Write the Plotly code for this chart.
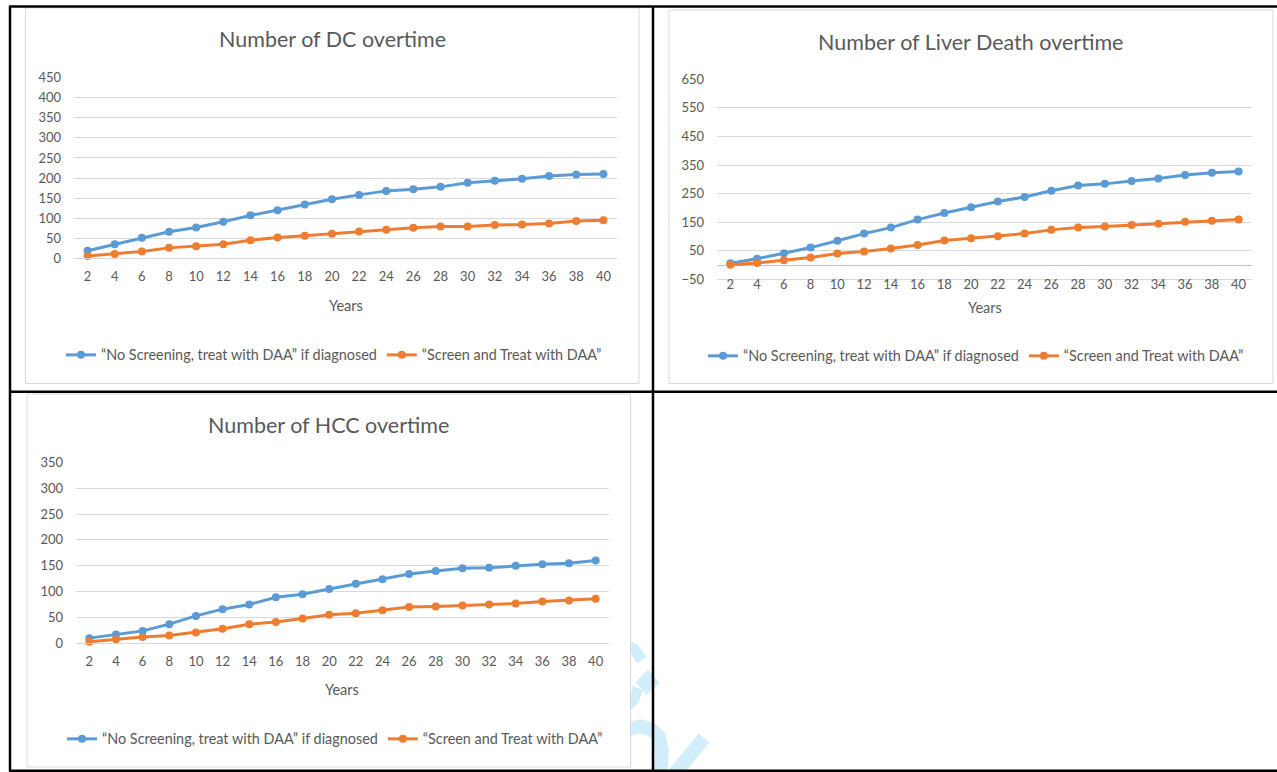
import plotly.graph_objects as go

W, H = 1277, 772

years = [str(y) for y in range(2, 41, 2)]

dc_no_screen = [19, 35, 51, 66, 77, 91, 107, 120, 134, 147, 158, 168, 172, 178, 188, 193, 198, 205, 209, 210]
dc_screen = [6, 11, 17, 26, 30, 35, 45, 52, 56, 61, 67, 71, 76, 79, 79, 83, 84, 87, 93, 95]

ld_no_screen = [6, 22, 41, 61, 85, 110, 131, 159, 182, 202, 222, 238, 260, 278, 284, 294, 303, 315, 323, 327]
ld_screen = [1, 7, 17, 26, 40, 47, 58, 70, 86, 94, 101, 110, 123, 131, 135, 140, 144, 151, 155, 159]

hcc_no_screen = [10, 17, 24, 37, 53, 66, 75, 89, 95, 105, 115, 124, 134, 140, 145, 146, 150, 153, 155, 160]
hcc_screen = [3, 8, 12, 15, 21, 28, 37, 41, 48, 55, 58, 64, 70, 71, 73, 75, 77, 81, 83, 86]

name_no = "\u201cNo Screening, treat with DAA\u201d if diagnosed"
name_sc = "\u201cScreen and Treat with DAA\u201d"

titles = ["Number of DC overtime", "Number of Liver Death overtime", "Number of HCC overtime"]

BLUE = "#5B9BD5"
ORANGE = "#ED7D31"
TXT = "#595959"
GRID = "#D9D9D9"
WM = "#D3EEFB"
FONT = "Lato, 'Open Sans', sans-serif"


def px(x):
    return x / W


def py(y):
    return 1 - y / H


fig = go.Figure()

panels = [
    dict(ax="", leg="legend", no=dc_no_screen, sc=dc_screen, x0=74, x1=617, yt=77.7, yb=258.3,
         rng=[0, 450], dt=50, tpos=(332, 39.5), ypos=(346, 305), lpos=(61, 355), std=6),
    dict(ax="2", leg="legend2", no=ld_no_screen, sc=ld_screen, x0=717, x1=1252, yt=79.3, yb=279.3,
         rng=[-50, 650], dt=100, tpos=(970, 42), ypos=(985, 307), lpos=(703, 356), std=-7),
    dict(ax="3", leg="legend3", no=hcc_no_screen, sc=hcc_screen, x0=76, x1=609, yt=462.3, yb=643.3,
         rng=[0, 350], dt=50, tpos=(328, 425), ypos=(342, 689), lpos=(62, 739), std=6),
]

for i, p in enumerate(panels):
    xa = "x" + p["ax"]
    ya = "y" + p["ax"]
    for name, vals, col in [(name_no, p["no"], BLUE), (name_sc, p["sc"], ORANGE)]:
        fig.add_trace(go.Scatter(
            x=years, y=vals, name=name, mode="lines+markers",
            line=dict(color=col, width=3), marker=dict(color=col, size=8),
            xaxis=xa, yaxis=ya, legend=p["leg"], cliponaxis=False,
        ))
    xkey = "xaxis" + p["ax"]
    ykey = "yaxis" + p["ax"]
    fig.layout[xkey] = dict(
        domain=[px(p["x0"]), px(p["x1"])], anchor=ya, type="category",
        range=[-0.5, 19.5], showgrid=False, showline=True, linecolor=GRID, linewidth=1,
        ticks="", tickfont=dict(size=13, color=TXT, family=FONT),
        ticklabelstandoff=p["std"], zeroline=False, fixedrange=True,
    )
    fig.layout[ykey] = dict(
        domain=[py(p["yb"]), py(p["yt"])], anchor=xa, range=p["rng"],
        tick0=p["rng"][0], dtick=p["dt"], showgrid=True, gridcolor=GRID, gridwidth=1,
        zeroline=(p["ax"] == "2"), zerolinecolor="#BFBFBF", zerolinewidth=1,
        showline=False, ticks="", tickfont=dict(size=13, color=TXT, family=FONT),
        ticklabelstandoff=12, fixedrange=True,
    )
    fig.layout[p["leg"]] = dict(
        orientation="h", x=px(p["lpos"][0]), y=py(p["lpos"][1]), xanchor="left", yanchor="middle",
        xref="paper", yref="paper", bgcolor="rgba(0,0,0,0)", font=dict(size=14.4, color=TXT, family=FONT),
        itemwidth=30, traceorder="normal",
    )
    fig.add_annotation(text=titles[i], x=px(p["tpos"][0]), y=py(p["tpos"][1]), xref="paper", yref="paper",
                       showarrow=False, xanchor="center", yanchor="middle",
                       font=dict(size=21.5, color=TXT, family=FONT))
    fig.add_annotation(text="Years", x=px(p["ypos"][0]), y=py(p["ypos"][1]), xref="paper", yref="paper",
                       showarrow=False, xanchor="center", yanchor="middle",
                       font=dict(size=14.5, color=TXT, family=FONT))


def path(points, close=False):
    s = "M" + " L".join(f"{px(x):.5f},{py(y):.5f}" for x, y in points)
    return s + (" Z" if close else "")


shapes = []
# watermark fragments (page decoration, partly hidden behind the chart area)
shapes.append(dict(type="path", xref="paper", yref="paper", layer="below",
                   path=path([(622, 643), (634, 649), (642, 660)]),
                   line=dict(color=WM, width=11)))
shapes.append(dict(type="path", xref="paper", yref="paper", layer="below",
                   path=path([(636, 682), (648.3, 670), (659, 683), (646.7, 694.5)], close=True),
                   line=dict(color=WM, width=1), fillcolor=WM))
shapes.append(dict(type="path", xref="paper", yref="paper", layer="below",
                   path=path([(638, 688), (634, 699), (624, 710)]),
                   line=dict(color=WM, width=11)))
shapes.append(dict(type="path", xref="paper", yref="paper", layer="below",
                   path=path([(620, 731), (640, 726.5), (651, 729), (659, 737), (662, 751), (660, 778)]),
                   line=dict(color=WM, width=14)))
shapes.append(dict(type="path", xref="paper", yref="paper", layer="below",
                   path=path([(704, 738), (671, 778)]),
                   line=dict(color=WM, width=14)))
for (x0, y0, x1, y1) in [(25.5, 8, 639, 383.5), (669, 10, 1273, 383.5), (27, 394, 630.5, 767)]:
    shapes.append(dict(type="rect", xref="paper", yref="paper", x0=px(x0), x1=px(x1), y0=py(y1), y1=py(y0),
                       line=dict(color=GRID, width=1), fillcolor="white", layer="below"))
for (x0, y0, x1, y1) in [(9, 6.5, 1277, 6.5), (10, 6, 10, 771.5), (9, 770.7, 1277, 770.7),
                         (653, 6, 653, 771.5), (9, 391.7, 1277, 391.7)]:
    shapes.append(dict(type="line", xref="paper", yref="paper", x0=px(x0), x1=px(x1), y0=py(y0), y1=py(y1),
                       line=dict(color="black", width=2.5), layer="above"))

fig.update_layout(
    width=W, height=H, margin=dict(l=0, r=0, t=0, b=0, pad=0, autoexpand=False),
    paper_bgcolor="white", plot_bgcolor="rgba(0,0,0,0)",
    font=dict(family=FONT, color=TXT), shapes=shapes, hovermode=False,
)

fig.write_html("out.html", config={"displayModeBar": False})
